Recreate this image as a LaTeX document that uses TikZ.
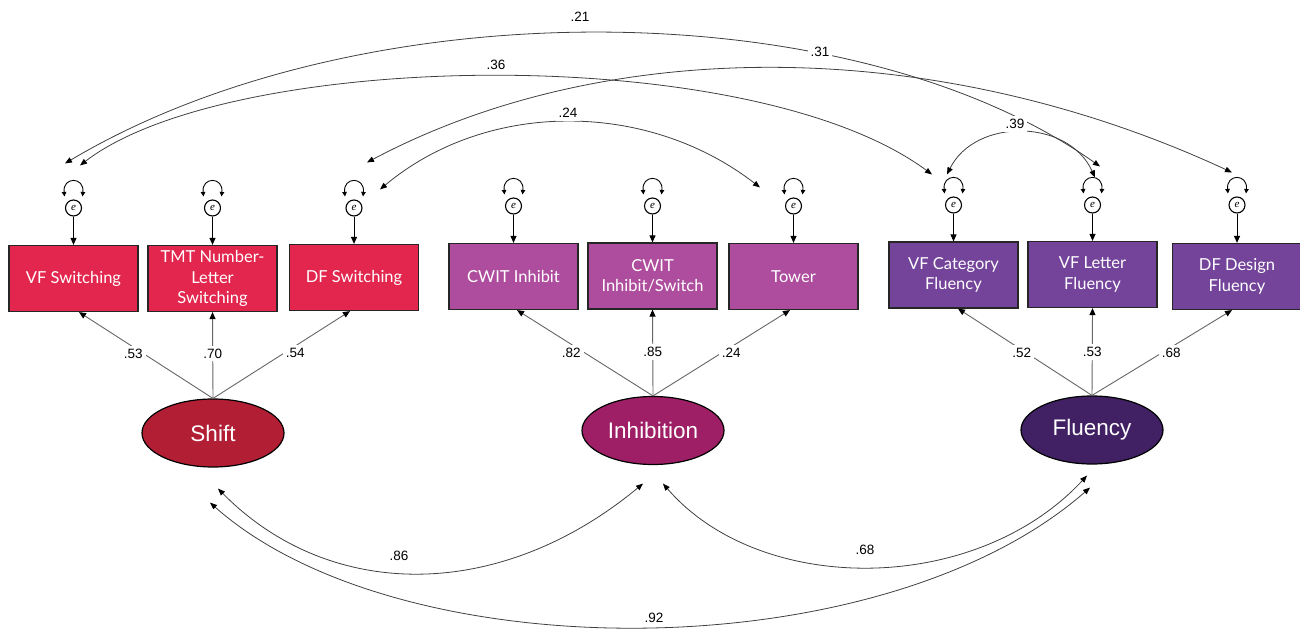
\documentclass[tikz,border=0pt]{standalone}
\usepackage{fontspec}
\setmainfont{Liberation Sans}
\newfontfamily\boxfont{Lato}
\newfontfamily\efont{Liberation Serif}
\usetikzlibrary{arrows.meta,shapes.geometric}
\definecolor{shiftbox}{HTML}{E3264E}
\definecolor{inhbox}{HTML}{AE4D9E}
\definecolor{flubox}{HTML}{74449B}
\definecolor{shiftlat}{HTML}{B21E33}
\definecolor{inhlat}{HTML}{9E1F66}
\definecolor{flulat}{HTML}{412064}
\begin{document}
\begin{tikzpicture}[x=1pt,y=-1pt,
  obs/.style={draw=black!85, line width=1.2pt, minimum width=129pt, minimum height=66pt, inner sep=0pt, text=white, align=center, font=\boxfont\fontsize{16.5}{20.5}\selectfont},
  latent/.style={ellipse, draw=black, line width=1.2pt, minimum width=142pt, minimum height=68pt, inner sep=0pt, text=white, font=\fontsize{22.5}{26}\selectfont},
  errnode/.style={circle, draw=black, line width=1.1pt, minimum size=16pt, inner sep=0pt, font=\efont\itshape\fontsize{11}{12}\selectfont},
  loadline/.style={draw=black!60, line width=0.9pt, -{Triangle[length=7pt,width=6pt,color=black]}},
  covline/.style={draw=black!75, line width=0.8pt, {Triangle[length=7pt,width=5.5pt,color=black]}-{Triangle[length=7pt,width=5.5pt,color=black]}},
  eline/.style={draw=black, line width=1pt, -{Triangle[length=7pt,width=6pt]}},
  loopline/.style={draw=black, line width=0.9pt, {Triangle[length=4.5pt,width=4.5pt]}-{Triangle[length=4.5pt,width=4.5pt]}},
  numlab/.style={fill=white, inner sep=3pt, font=\fontsize{13.5}{14}\selectfont},
]
\useasboundingbox (0,0) rectangle (1300,639);

% observed boxes
\node[obs, fill=shiftbox] (b1) at (73.5,278.5) {VF Switching};
\node[obs, fill=shiftbox] (b2) at (212.5,278.5) {TMT Number-\\Letter\\Switching};
\node[obs, fill=shiftbox] (b3) at (354,277.5) {DF Switching};
\node[obs, fill=inhbox] (b4) at (513.5,276.5) {CWIT Inhibit};
\node[obs, fill=inhbox] (b5) at (652.5,276) {CWIT\\Inhibit/Switch};
\node[obs, fill=inhbox] (b6) at (793.5,276.5) {Tower};
\node[obs, fill=flubox] (b7) at (953.5,275) {VF Category\\Fluency};
\node[obs, fill=flubox] (b8) at (1092.5,274.5) {VF Letter\\Fluency};
\node[obs, fill=flubox] (b9) at (1237,276.5) {DF Design\\Fluency};

% latent variables
\node[latent, fill=shiftlat] (shift) at (213,433) {Shift};
\node[latent, fill=inhlat] (inhib) at (653,430.5) {Inhibition};
\node[latent, fill=flulat] (fluen) at (1092,430) {Fluency};

% error terms
\node[errnode] (e1) at (73.5,208) {e};
\node[errnode] (e2) at (212.5,208) {e};
\node[errnode] (e3) at (354,208) {e};
\node[errnode] (e4) at (513.5,206) {e};
\node[errnode] (e5) at (652.5,206) {e};
\node[errnode] (e6) at (793.5,206) {e};
\node[errnode] (e7) at (953.5,205) {e};
\node[errnode] (e8) at (1092.5,205) {e};
\node[errnode] (e9) at (1237,205) {e};

\foreach \i in {1,...,9}{
  \draw[eline] (e\i) -- (b\i);
  \draw[loopline] ([shift={(-9,-3)}]e\i.north) .. controls +(-2,-20) and +(2,-20) .. ([shift={(9,-3)}]e\i.north);
}

% loadings
\draw[loadline] (shift.north) -- node[numlab, pos=0.52, xshift=-10pt]{.53} ([xshift=5.5pt]b1.south);
\draw[loadline] (shift.north) -- node[numlab, pos=0.52]{.70} (b2.south);
\draw[loadline] (shift.north) -- node[numlab, pos=0.52, xshift=11pt]{.54} ([xshift=-4pt]b3.south);
\draw[loadline] (inhib.north) -- node[numlab, pos=0.506, xshift=-13pt]{.82} ([xshift=3.5pt]b4.south);
\draw[loadline] (inhib.north) -- node[numlab, pos=0.506]{.85} (b5.south);
\draw[loadline] (inhib.north) -- node[numlab, pos=0.506, xshift=9pt]{.24} ([xshift=-3.5pt]b6.south);
\draw[loadline] (fluen.north) -- node[numlab, pos=0.494, xshift=-4pt]{.52} ([xshift=4.5pt]b7.south);
\draw[loadline] (fluen.north) -- node[numlab, pos=0.494]{.53} (b8.south);
\draw[loadline] (fluen.north) -- node[numlab, pos=0.494, xshift=10pt]{.68} ([xshift=-5pt]b9.south);

% error covariances (top)
\draw[covline] ([shift={(-8.5,-36)}]e1.north) .. controls (358,-11) and (849,-11) .. ([shift={(7.5,-30)}]e8.north);
\draw[covline] ([shift={(6.5,-34)}]e1.north) .. controls (230,50) and (750,40) .. ([shift={(-21.5,-22)}]e7.north);
\draw[covline] ([shift={(13,-37)}]e3.north) .. controls (607,35) and (936,35) .. ([shift={(-5,-24)}]e9.north);
\draw[covline] ([shift={(-6.5,-22)}]e7.north) .. controls (975,118) and (1068,118) .. ([shift={(2.5,-19)}]e8.north);
\draw[covline] ([shift={(26,-10)}]e3.north) .. controls (487,100) and (647,100) .. ([shift={(-33.5,-10)}]e6.north);

\node[numlab] (l21) at (580,17) {.21};
\node[numlab] (l36) at (496,65) {.36};
\node[numlab] (l31) at (820,52) {.31};
\node[numlab] (l24) at (568,113) {.24};
\node[numlab] (l39) at (1015,124) {.39};

% latent covariances (bottom)
\draw[covline] ([shift={(5,21)}]shift.south) .. controls (330,602) and (500,602) .. ([shift={(-10,18.5)}]inhib.south);
\draw[covline] ([shift={(10,18.5)}]inhib.south) .. controls (760,596) and (975,596) .. ([shift={(-5,11)}]fluen.south);
\draw[covline] ([shift={(-3,35)}]shift.south) .. controls (400,671) and (880,671) .. ([shift={(-2,23)}]fluen.south);

\node[numlab] (l86) at (399,556) {.86};
\node[numlab] (l68) at (865,550) {.68};
\node[numlab] (l92) at (654,618) {.92};
\end{tikzpicture}
\end{document}
